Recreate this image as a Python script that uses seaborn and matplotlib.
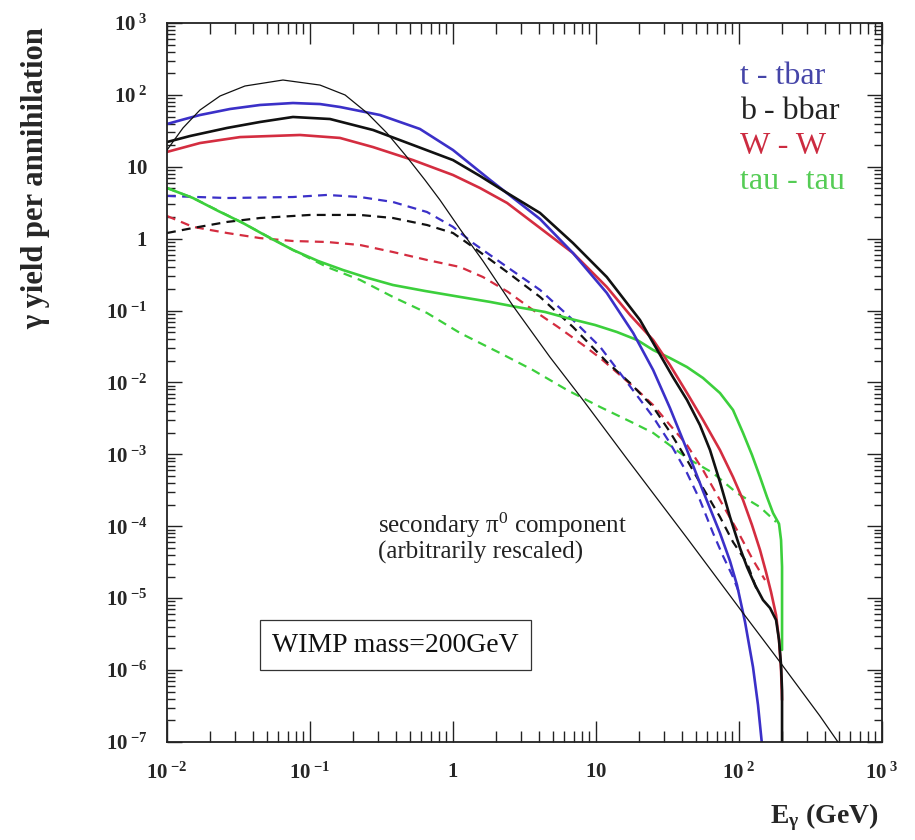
import numpy as np
import pandas as pd
import matplotlib
matplotlib.use("Agg")
import matplotlib.pyplot as plt
from matplotlib.ticker import LogLocator, NullFormatter
import seaborn as sns

# ---------------- data ----------------
tt_E = [0.01, 0.01337, 0.017, 0.0276, 0.0447, 0.076, 0.1175, 0.162, 0.309, 0.587, 1.0, 1.82, 4.06, 6.90,
        11.9, 18.2, 25.1, 32.9, 43.3, 56.0, 73.6, 86.5, 96.8, 110.2, 125.3, 135.8, 144.9]
tt_Y = [39.4, 46.2, 52.5, 63.7, 72.4, 77.1, 74.6, 67.9, 52.5, 33.6, 17.1, 6.55, 1.88, 0.632,
        0.176, 0.0488, 0.0149, 4.42e-3, 1.15e-3, 3.10e-4, 8.07e-5, 3.29e-5, 1.53e-5, 4.67e-6, 1.10e-6, 3.27e-7, 9.1e-8]

bb_E = [0.01, 0.01449, 0.0263, 0.0447, 0.076, 0.138, 0.276, 0.525, 1.0, 1.545, 2.39, 4.06, 6.90, 11.9, 20.3,
        34.5, 43.3, 53.3, 62.7, 73.6, 86.5, 101.6, 113.8, 129.4, 147.2, 164.8, 181.6, 190.5, 196.8, 200, 200]
bb_Y = [22.1, 26.8, 34.7, 42.0, 49.3, 46.2, 32.5, 20.1, 12.4, 7.45, 4.33, 2.28, 0.871, 0.293, 0.074,
        0.0119, 5.71e-3, 2.56e-3, 1.15e-3, 4.13e-4, 1.35e-4, 4.99e-5, 2.72e-5, 1.53e-5, 9.44e-6, 7.31e-6,
        4.98e-6, 2.62e-6, 1.18e-6, 5.28e-7, 1e-8]

ww_E = [0.01, 0.017, 0.0324, 0.0851, 0.162, 0.276, 0.525, 1.0, 1.545, 2.39, 4.06, 6.90, 11.9, 17.3, 25.1,
        32.9, 43.3, 56.0, 73.6, 90.8, 106.7, 123.3, 140.3, 154.5, 167.5, 181.6, 190.5, 196.8, 200]
ww_Y = [16.1, 21.4, 25.9, 27.7, 25.2, 18.8, 12.4, 7.69, 5.07, 3.14, 1.41, 0.632, 0.213, 0.0869, 0.039,
        0.0175, 7.14e-3, 3.01e-3, 1.15e-3, 4.85e-4, 2.32e-4, 1.04e-4, 4.68e-5, 2.31e-5, 1.22e-5, 5.83e-6,
        2.62e-6, 1.0e-6, 3.84e-7]

tau_E = [0.01, 0.0152, 0.0228, 0.034, 0.0508, 0.076, 0.1138, 0.170, 0.2547, 0.380, 0.637, 1.12, 1.82, 2.81,
         4.40, 6.27, 9.84, 14.0, 19.4, 25.1, 32.9, 43.3, 56.0, 73.6, 90.8, 106.7, 123.3, 140.3, 157.0, 173.0,
         190.5, 196.8, 200, 200]
tau_Y = [5.07, 3.68, 2.43, 1.65, 1.06, 0.697, 0.490, 0.367, 0.284, 0.227, 0.1875, 0.155, 0.132, 0.112,
         0.0957, 0.0789, 0.0631, 0.0504, 0.039, 0.0283, 0.0219, 0.0164, 0.01156, 7.14e-3, 4.15e-3, 1.99e-3,
         9.82e-4, 4.85e-4, 2.55e-4, 1.53e-4, 1.08e-4, 6.44e-5, 2.72e-5, 1.91e-6]

tt2_E = [0.01, 0.0263, 0.076, 0.1315, 0.224, 0.380, 0.658, 1.0, 1.38, 2.39, 4.06, 6.90, 10.7, 14.7, 25.1,
         32.9, 43.3, 53.3, 65.8, 77.3, 90.8, 101.6]
tt2_Y = [3.93, 3.68, 3.80, 4.06, 3.80, 3.24, 2.35, 1.46, 0.871, 0.404, 0.194, 0.074, 0.0312, 0.0136, 3.31e-3,
         1.44e-3, 5.51e-4, 2.32e-4, 8.07e-5, 3.86e-5, 1.97e-5, 1.11e-5]

bb2_E = [0.01, 0.0152, 0.0263, 0.0447, 0.1, 0.224, 0.380, 0.658, 1.0, 1.38, 2.39, 4.06, 6.90, 11.9, 17.3,
         25.1, 32.9, 43.3, 56.0, 73.6, 90.8, 113.8, 135.8]
bb2_Y = [1.20, 1.41, 1.71, 1.94, 2.14, 2.14, 1.94, 1.55, 1.20, 0.767, 0.344, 0.155, 0.0592, 0.0193, 9.84e-3,
         4.56e-3, 2.05e-3, 8.36e-4, 3.41e-4, 1.35e-4, 6.05e-5, 3.09e-5, 1.18e-5]

ww2_E = [0.01, 0.0152, 0.0263, 0.0447, 0.076, 0.1315, 0.224, 0.380, 0.658, 1.12, 1.62, 2.43, 3.62, 5.42,
         8.11, 10.7, 14.7, 19.4, 25.1, 32.9, 43.3, 56.0, 73.6, 96.8, 125.3, 152.1]
ww2_Y = [2.07, 1.46, 1.20, 1.02, 0.929, 0.90, 0.817, 0.653, 0.506, 0.404, 0.293, 0.1815, 0.102, 0.0592,
         0.0333, 0.0219, 0.0127, 7.87e-3, 4.86e-3, 2.56e-3, 1.35e-3, 6.07e-4, 2.32e-4, 8.89e-5, 3.40e-5, 1.79e-5]

tau2_E = [0.01, 0.0152, 0.034, 0.076, 0.1315, 0.224, 0.380, 0.658, 1.12, 2.13, 3.62, 6.27, 10.7, 18.2, 25.1,
          43.3, 65.8, 96.8, 140.3, 181.6]
tau2_Y = [5.07, 3.68, 1.65, 0.697, 0.404, 0.267, 0.155, 0.0927, 0.0488, 0.0257, 0.0149, 7.87e-3, 4.56e-3,
          2.74e-3, 1.99e-3, 8.91e-4, 5.51e-4, 2.90e-4, 1.85e-4, 1.15e-4]

pi0_E = [0.01, 0.01294, 0.017, 0.0235, 0.0351, 0.0647, 0.1175, 0.176, 0.251, 0.345, 0.476, 0.637, 0.811,
         1.12, 1.62, 2.63, 4.76, 8.11, 16.5, 43.3, 101.6, 184.5, 368, 492]
pi0_Y = [17.1, 34.7, 61.6, 96.6, 133, 161, 137, 99.7, 56.0, 29.5, 13.7, 6.55, 3.45,
         1.36, 0.490, 0.116, 0.0226, 5.71e-3, 8.63e-4, 6.87e-5, 7.08e-6, 1.47e-6, 2.30e-7, 1e-7]

legend_labels = ["t - tbar", "b - bbar", "W - W", "tau - tau"]
x_ticks = [1e-2, 1e-1, 1, 10, 1e2, 1e3]
x_ticklabels = [r"$\mathbf{10}^{\ \mathbf{-2}}$", r"$\mathbf{10}^{\ \mathbf{-1}}$", r"$\mathbf{1}$",
                r"$\mathbf{10}$", r"$\mathbf{10}^{\ \mathbf{2}}$", r"$\mathbf{10}^{\ \mathbf{3}}$"]
y_ticks = [1e-7, 1e-6, 1e-5, 1e-4, 1e-3, 1e-2, 1e-1, 1, 10, 1e2, 1e3]
y_ticklabels = [r"$\mathbf{10}^{\ \mathbf{-7}}$", r"$\mathbf{10}^{\ \mathbf{-6}}$", r"$\mathbf{10}^{\ \mathbf{-5}}$",
                r"$\mathbf{10}^{\ \mathbf{-4}}$", r"$\mathbf{10}^{\ \mathbf{-3}}$", r"$\mathbf{10}^{\ \mathbf{-2}}$",
                r"$\mathbf{10}^{\ \mathbf{-1}}$", r"$\mathbf{1}\quad$", r"$\mathbf{10}\quad\,$",
                r"$\mathbf{10}^{\ \mathbf{2}}$", r"$\mathbf{10}^{\ \mathbf{3}}$"]

# ---------------- style ----------------
sns.set_style("ticks")
plt.rcParams["font.family"] = ["Liberation Serif", "DejaVu Serif"]
plt.rcParams["mathtext.fontset"] = "custom"
plt.rcParams["mathtext.rm"] = "Liberation Serif"
plt.rcParams["mathtext.it"] = "Liberation Serif:italic"
plt.rcParams["mathtext.bf"] = "Liberation Serif:bold"

BLUE = "#3b30c8"
RED = "#d42d40"
GREEN = "#3ccf3c"
BLACK = "#111111"

fig = plt.figure(figsize=(9.15, 8.4), dpi=100)
ax = fig.add_axes([167 / 915, 1 - 742 / 840, 715 / 915, 719 / 840])
ax.set_xscale("log")
ax.set_yscale("log")

def draw(E, Y, color, lw, dashed=False, z=2):
    df = pd.DataFrame({"E": E, "Y": Y})
    sns.lineplot(data=df, x="E", y="Y", ax=ax, color=color, lw=lw,
                 estimator=None, sort=False, zorder=z)
    line = ax.lines[-1]
    if dashed:
        line.set_dashes((4.0, 2.8))
    line.set_solid_joinstyle("round")

draw(pi0_E, pi0_Y, BLACK, 0.9, z=3)
draw(tau2_E, tau2_Y, GREEN, 1.6, dashed=True)
draw(ww2_E, ww2_Y, RED, 1.6, dashed=True)
draw(bb2_E, bb2_Y, BLACK, 1.6, dashed=True)
draw(tt2_E, tt2_Y, BLUE, 1.6, dashed=True)
draw(tau_E, tau_Y, GREEN, 1.9)
draw(ww_E, ww_Y, RED, 1.9)
draw(tt_E, tt_Y, BLUE, 1.9)
draw(bb_E, bb_Y, BLACK, 1.9)

ax.set_xlim(1e-2, 1e3)
ax.set_ylim(1e-7, 1e3)

ax.xaxis.set_major_locator(LogLocator(base=10, numticks=100))
ax.yaxis.set_major_locator(LogLocator(base=10, numticks=100))
ax.xaxis.set_minor_locator(LogLocator(base=10, subs=np.arange(2, 10), numticks=100))
ax.yaxis.set_minor_locator(LogLocator(base=10, subs=np.arange(2, 10), numticks=100))
ax.set_xticks(x_ticks)
ax.set_xticklabels(x_ticklabels)
ax.set_yticks(y_ticks)
ax.set_yticklabels(y_ticklabels)
ax.xaxis.set_minor_formatter(NullFormatter())
ax.yaxis.set_minor_formatter(NullFormatter())

ax.tick_params(which="both", direction="in", top=True, right=True, color="#222222", width=1.0)
ax.tick_params(axis="x", which="major", length=15, pad=15, labelsize=15)
ax.tick_params(axis="x", which="minor", length=8)
ax.tick_params(axis="y", which="major", length=11, pad=14, labelsize=15)
ax.tick_params(axis="y", which="minor", length=6)
for s in ax.spines.values():
    s.set_linewidth(1.3)
    s.set_color("#222222")

ax.set_xlabel(r"$\mathbf{E_{\gamma}}$ (GeV)", fontsize=20, fontweight="bold")
ax.xaxis.set_label_coords(0.919, -0.083)
ax.set_ylabel("γ yield per annihilation", fontsize=22, fontweight="bold")
ax.yaxis.set_label_coords(-0.1636, 0.784)

# legend as coloured text
leg_colors = ["#4545a8", "#222222", "#cc2b40", "#55cc55"]
leg_y = [0.9152, 0.8665, 0.8178, 0.7691]
for lab, c, yy in zip(legend_labels, leg_colors, leg_y):
    ax.text(0.8014, yy, lab, transform=ax.transAxes, color=c, fontsize=23,
            ha="left", va="baseline")

ax.text(0.295, 0.2907, "secondary π$^{0}$ component", transform=ax.transAxes,
        fontsize=18, ha="left", va="baseline", color="#222222")
ax.text(0.295, 0.2545, "(arbitrarily rescaled)", transform=ax.transAxes,
        fontsize=18, ha="left", va="baseline", color="#222222")

ax.text(0.1469, 0.1252, "WIMP mass=200GeV", transform=ax.transAxes, fontsize=20,
        ha="left", va="baseline", color="#111111",
        bbox=dict(boxstyle="square,pad=0.45", fc="white", ec="#333333", lw=0.9))

fig.savefig("out.png", dpi=100)
